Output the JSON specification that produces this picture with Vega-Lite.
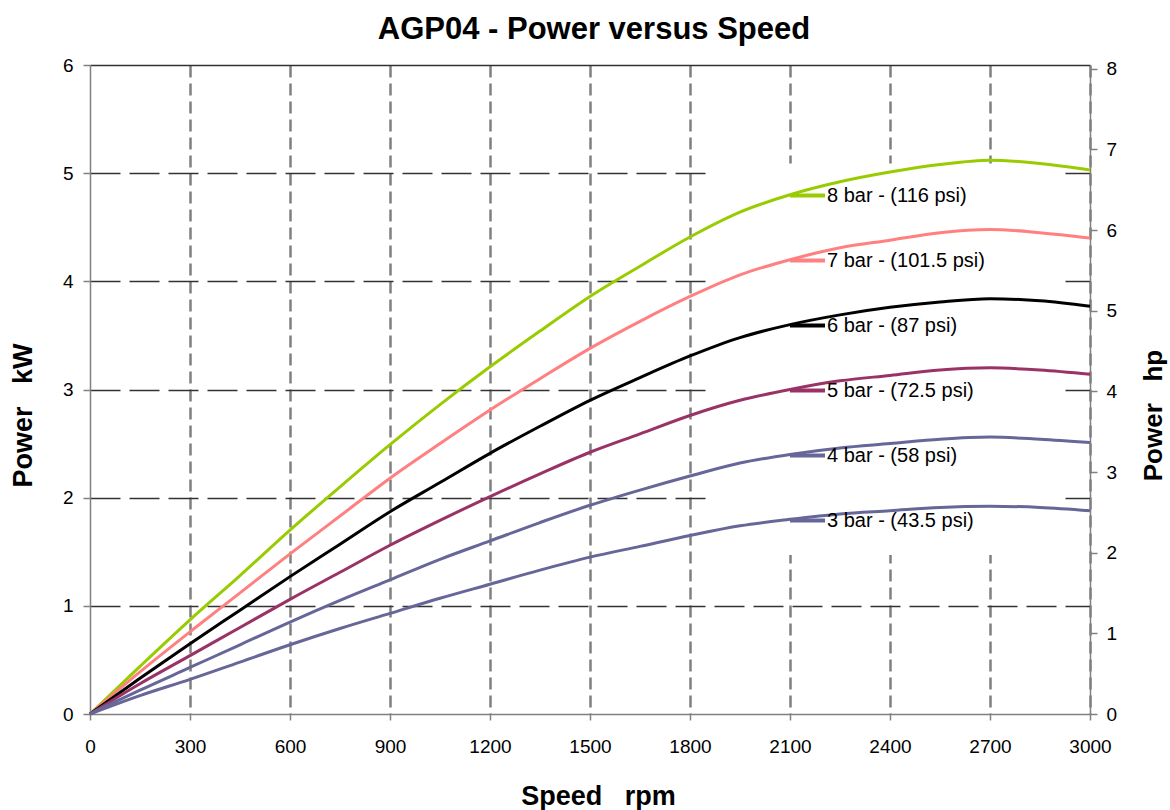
{
  "$schema": "https://vega.github.io/schema/vega-lite/v6.json",
  "width": 1000,
  "height": 649,
  "autosize": {"type": "none"},
  "padding": {"left": 90, "top": 65, "right": 80, "bottom": 96},
  "background": "white",
  "config": {"view": {"stroke": null}, "font": "Liberation Sans"},
  "title": {"text": "AGP04 - Power versus Speed", "fontSize": 31, "fontWeight": "bold", "font": "Liberation Sans", "color": "#000000", "anchor": "middle", "frame": "group", "offset": 10, "dx": 4},
  "layer": [
    {
      "encoding": {
        "x": {"field": "rpm", "type": "quantitative", "scale": {"domain": [0, 3000], "nice": false},
          "axis": {"title": "Speed\u00a0\u00a0\u00a0rpm", "titleFontSize": 27, "titleFontWeight": "bold", "titleColor": "#000000", "titleFont": "Liberation Sans", "titleY": 82, "titleX": 508, "titleBaseline": "middle", "format": "d",
            "values": [0, 300, 600, 900, 1200, 1500, 1800, 2100, 2400, 2700, 3000], "labelFontSize": 19, "labelColor": "#000000", "labelFont": "Liberation Sans", "labelPadding": 17, "labelFlush": false, "labelOverlap": false, "labelBound": false,
            "tickSize": 6, "tickColor": "#808080", "tickWidth": 1.5, "domainColor": "#808080", "domainWidth": 1.5,
            "grid": true, "gridColor": "#808080", "gridWidth": 2.5, "gridDash": [12, 6],
            "gridOpacity": {"condition": {"test": "datum.value === 0", "value": 0}, "value": 1}}},
        "y": {"field": "kW", "type": "quantitative", "scale": {"domain": [0, 6], "nice": false},
          "axis": {"title": "Power\u00a0\u00a0\u00a0kW", "titleFontSize": 27, "titleFontWeight": "bold", "titleColor": "#000000", "titleFont": "Liberation Sans", "titleX": -67, "titleY": 350, "titleAngle": 270, "titleAlign": "center", "titleBaseline": "middle",
            "values": [0, 1, 2, 3, 4, 5, 6], "labelFontSize": 19, "labelColor": "#000000", "labelFont": "Liberation Sans", "labelPadding": 10, "labelFlush": false, "labelOverlap": false, "labelBound": false,
            "tickSize": 7, "tickColor": "#808080", "tickWidth": 1.5, "domainColor": "#808080", "domainWidth": 1.5,
            "grid": true, "gridColor": "#333333", "gridWidth": 1.4,
            "gridDash": {"condition": {"test": "datum.value === 6", "value": [1, 0]}, "value": [30, 9]},
            "gridOpacity": {"condition": {"test": "datum.value === 0", "value": 0}, "value": 1}}}
      },
      "layer": [
        {
          "data": {"values": [{"rpm": 1860, "rpm2": 2910, "kW": 1.47, "kW2": 5.09}]},
          "mark": {"type": "rect", "fill": "white", "strokeWidth": 0},
          "encoding": {"x2": {"field": "rpm2"}, "y2": {"field": "kW2"}}
        },
        {
          "data": {"values": [
            {"series": "8 bar - (116 psi)", "rpm": 0, "kW": 0}, {"series": "8 bar - (116 psi)", "rpm": 150, "kW": 0.44}, {"series": "8 bar - (116 psi)", "rpm": 300, "kW": 0.87}, {"series": "8 bar - (116 psi)", "rpm": 450, "kW": 1.28}, {"series": "8 bar - (116 psi)", "rpm": 600, "kW": 1.70}, {"series": "8 bar - (116 psi)", "rpm": 750, "kW": 2.10}, {"series": "8 bar - (116 psi)", "rpm": 900, "kW": 2.49}, {"series": "8 bar - (116 psi)", "rpm": 1050, "kW": 2.86}, {"series": "8 bar - (116 psi)", "rpm": 1200, "kW": 3.21}, {"series": "8 bar - (116 psi)", "rpm": 1350, "kW": 3.54}, {"series": "8 bar - (116 psi)", "rpm": 1500, "kW": 3.86}, {"series": "8 bar - (116 psi)", "rpm": 1650, "kW": 4.14}, {"series": "8 bar - (116 psi)", "rpm": 1800, "kW": 4.41}, {"series": "8 bar - (116 psi)", "rpm": 1950, "kW": 4.64}, {"series": "8 bar - (116 psi)", "rpm": 2100, "kW": 4.80}, {"series": "8 bar - (116 psi)", "rpm": 2250, "kW": 4.92}, {"series": "8 bar - (116 psi)", "rpm": 2400, "kW": 5.01}, {"series": "8 bar - (116 psi)", "rpm": 2550, "kW": 5.08}, {"series": "8 bar - (116 psi)", "rpm": 2700, "kW": 5.12}, {"series": "8 bar - (116 psi)", "rpm": 2850, "kW": 5.09}, {"series": "8 bar - (116 psi)", "rpm": 3000, "kW": 5.03},
            {"series": "7 bar - (101.5 psi)", "rpm": 0, "kW": 0}, {"series": "7 bar - (101.5 psi)", "rpm": 150, "kW": 0.39}, {"series": "7 bar - (101.5 psi)", "rpm": 300, "kW": 0.76}, {"series": "7 bar - (101.5 psi)", "rpm": 450, "kW": 1.12}, {"series": "7 bar - (101.5 psi)", "rpm": 600, "kW": 1.48}, {"series": "7 bar - (101.5 psi)", "rpm": 750, "kW": 1.83}, {"series": "7 bar - (101.5 psi)", "rpm": 900, "kW": 2.18}, {"series": "7 bar - (101.5 psi)", "rpm": 1050, "kW": 2.50}, {"series": "7 bar - (101.5 psi)", "rpm": 1200, "kW": 2.81}, {"series": "7 bar - (101.5 psi)", "rpm": 1350, "kW": 3.10}, {"series": "7 bar - (101.5 psi)", "rpm": 1500, "kW": 3.38}, {"series": "7 bar - (101.5 psi)", "rpm": 1650, "kW": 3.63}, {"series": "7 bar - (101.5 psi)", "rpm": 1800, "kW": 3.86}, {"series": "7 bar - (101.5 psi)", "rpm": 1950, "kW": 4.06}, {"series": "7 bar - (101.5 psi)", "rpm": 2100, "kW": 4.20}, {"series": "7 bar - (101.5 psi)", "rpm": 2250, "kW": 4.31}, {"series": "7 bar - (101.5 psi)", "rpm": 2400, "kW": 4.38}, {"series": "7 bar - (101.5 psi)", "rpm": 2550, "kW": 4.45}, {"series": "7 bar - (101.5 psi)", "rpm": 2700, "kW": 4.48}, {"series": "7 bar - (101.5 psi)", "rpm": 2850, "kW": 4.45}, {"series": "7 bar - (101.5 psi)", "rpm": 3000, "kW": 4.40},
            {"series": "6 bar - (87 psi)", "rpm": 0, "kW": 0}, {"series": "6 bar - (87 psi)", "rpm": 150, "kW": 0.33}, {"series": "6 bar - (87 psi)", "rpm": 300, "kW": 0.65}, {"series": "6 bar - (87 psi)", "rpm": 450, "kW": 0.96}, {"series": "6 bar - (87 psi)", "rpm": 600, "kW": 1.27}, {"series": "6 bar - (87 psi)", "rpm": 750, "kW": 1.57}, {"series": "6 bar - (87 psi)", "rpm": 900, "kW": 1.87}, {"series": "6 bar - (87 psi)", "rpm": 1050, "kW": 2.14}, {"series": "6 bar - (87 psi)", "rpm": 1200, "kW": 2.41}, {"series": "6 bar - (87 psi)", "rpm": 1350, "kW": 2.66}, {"series": "6 bar - (87 psi)", "rpm": 1500, "kW": 2.90}, {"series": "6 bar - (87 psi)", "rpm": 1650, "kW": 3.11}, {"series": "6 bar - (87 psi)", "rpm": 1800, "kW": 3.31}, {"series": "6 bar - (87 psi)", "rpm": 1950, "kW": 3.48}, {"series": "6 bar - (87 psi)", "rpm": 2100, "kW": 3.60}, {"series": "6 bar - (87 psi)", "rpm": 2250, "kW": 3.69}, {"series": "6 bar - (87 psi)", "rpm": 2400, "kW": 3.76}, {"series": "6 bar - (87 psi)", "rpm": 2550, "kW": 3.81}, {"series": "6 bar - (87 psi)", "rpm": 2700, "kW": 3.84}, {"series": "6 bar - (87 psi)", "rpm": 2850, "kW": 3.82}, {"series": "6 bar - (87 psi)", "rpm": 3000, "kW": 3.77},
            {"series": "5 bar - (72.5 psi)", "rpm": 0, "kW": 0}, {"series": "5 bar - (72.5 psi)", "rpm": 150, "kW": 0.28}, {"series": "5 bar - (72.5 psi)", "rpm": 300, "kW": 0.54}, {"series": "5 bar - (72.5 psi)", "rpm": 450, "kW": 0.80}, {"series": "5 bar - (72.5 psi)", "rpm": 600, "kW": 1.06}, {"series": "5 bar - (72.5 psi)", "rpm": 750, "kW": 1.31}, {"series": "5 bar - (72.5 psi)", "rpm": 900, "kW": 1.56}, {"series": "5 bar - (72.5 psi)", "rpm": 1050, "kW": 1.79}, {"series": "5 bar - (72.5 psi)", "rpm": 1200, "kW": 2.01}, {"series": "5 bar - (72.5 psi)", "rpm": 1350, "kW": 2.22}, {"series": "5 bar - (72.5 psi)", "rpm": 1500, "kW": 2.42}, {"series": "5 bar - (72.5 psi)", "rpm": 1650, "kW": 2.59}, {"series": "5 bar - (72.5 psi)", "rpm": 1800, "kW": 2.76}, {"series": "5 bar - (72.5 psi)", "rpm": 1950, "kW": 2.90}, {"series": "5 bar - (72.5 psi)", "rpm": 2100, "kW": 3.00}, {"series": "5 bar - (72.5 psi)", "rpm": 2250, "kW": 3.08}, {"series": "5 bar - (72.5 psi)", "rpm": 2400, "kW": 3.13}, {"series": "5 bar - (72.5 psi)", "rpm": 2550, "kW": 3.18}, {"series": "5 bar - (72.5 psi)", "rpm": 2700, "kW": 3.20}, {"series": "5 bar - (72.5 psi)", "rpm": 2850, "kW": 3.18}, {"series": "5 bar - (72.5 psi)", "rpm": 3000, "kW": 3.14},
            {"series": "4 bar - (58 psi)", "rpm": 0, "kW": 0}, {"series": "4 bar - (58 psi)", "rpm": 150, "kW": 0.22}, {"series": "4 bar - (58 psi)", "rpm": 300, "kW": 0.43}, {"series": "4 bar - (58 psi)", "rpm": 450, "kW": 0.64}, {"series": "4 bar - (58 psi)", "rpm": 600, "kW": 0.85}, {"series": "4 bar - (58 psi)", "rpm": 750, "kW": 1.05}, {"series": "4 bar - (58 psi)", "rpm": 900, "kW": 1.24}, {"series": "4 bar - (58 psi)", "rpm": 1050, "kW": 1.43}, {"series": "4 bar - (58 psi)", "rpm": 1200, "kW": 1.60}, {"series": "4 bar - (58 psi)", "rpm": 1350, "kW": 1.77}, {"series": "4 bar - (58 psi)", "rpm": 1500, "kW": 1.93}, {"series": "4 bar - (58 psi)", "rpm": 1650, "kW": 2.07}, {"series": "4 bar - (58 psi)", "rpm": 1800, "kW": 2.20}, {"series": "4 bar - (58 psi)", "rpm": 1950, "kW": 2.32}, {"series": "4 bar - (58 psi)", "rpm": 2100, "kW": 2.40}, {"series": "4 bar - (58 psi)", "rpm": 2250, "kW": 2.46}, {"series": "4 bar - (58 psi)", "rpm": 2400, "kW": 2.50}, {"series": "4 bar - (58 psi)", "rpm": 2550, "kW": 2.54}, {"series": "4 bar - (58 psi)", "rpm": 2700, "kW": 2.56}, {"series": "4 bar - (58 psi)", "rpm": 2850, "kW": 2.54}, {"series": "4 bar - (58 psi)", "rpm": 3000, "kW": 2.51},
            {"series": "3 bar - (43.5 psi)", "rpm": 0, "kW": 0}, {"series": "3 bar - (43.5 psi)", "rpm": 150, "kW": 0.17}, {"series": "3 bar - (43.5 psi)", "rpm": 300, "kW": 0.32}, {"series": "3 bar - (43.5 psi)", "rpm": 450, "kW": 0.48}, {"series": "3 bar - (43.5 psi)", "rpm": 600, "kW": 0.64}, {"series": "3 bar - (43.5 psi)", "rpm": 750, "kW": 0.79}, {"series": "3 bar - (43.5 psi)", "rpm": 900, "kW": 0.93}, {"series": "3 bar - (43.5 psi)", "rpm": 1050, "kW": 1.07}, {"series": "3 bar - (43.5 psi)", "rpm": 1200, "kW": 1.20}, {"series": "3 bar - (43.5 psi)", "rpm": 1350, "kW": 1.33}, {"series": "3 bar - (43.5 psi)", "rpm": 1500, "kW": 1.45}, {"series": "3 bar - (43.5 psi)", "rpm": 1650, "kW": 1.55}, {"series": "3 bar - (43.5 psi)", "rpm": 1800, "kW": 1.65}, {"series": "3 bar - (43.5 psi)", "rpm": 1950, "kW": 1.74}, {"series": "3 bar - (43.5 psi)", "rpm": 2100, "kW": 1.80}, {"series": "3 bar - (43.5 psi)", "rpm": 2250, "kW": 1.85}, {"series": "3 bar - (43.5 psi)", "rpm": 2400, "kW": 1.88}, {"series": "3 bar - (43.5 psi)", "rpm": 2550, "kW": 1.91}, {"series": "3 bar - (43.5 psi)", "rpm": 2700, "kW": 1.92}, {"series": "3 bar - (43.5 psi)", "rpm": 2850, "kW": 1.91}, {"series": "3 bar - (43.5 psi)", "rpm": 3000, "kW": 1.88}
          ]},
          "mark": {"type": "line", "strokeWidth": 3, "interpolate": "monotone"},
          "encoding": {
            "color": {"field": "series", "type": "nominal",
              "scale": {"domain": ["8 bar - (116 psi)", "7 bar - (101.5 psi)", "6 bar - (87 psi)", "5 bar - (72.5 psi)", "4 bar - (58 psi)", "3 bar - (43.5 psi)"],
                "range": ["#99CC00", "#FF8080", "#000000", "#993366", "#666699", "#666699"]},
              "legend": {"orient": "none", "legendX": 698, "legendY": 111, "title": null, "symbolType": "stroke", "symbolSize": 1225, "symbolStrokeWidth": 4,
                "labelFontSize": 20, "labelFont": "Liberation Sans", "labelColor": "#000000", "labelOffset": 0, "rowPadding": 35, "padding": 0, "symbolOffset": 0, "labelLimit": 400}}
          }
        }
      ]
    },
    {
      "data": {"values": [{"hp": 0}, {"hp": 8}]},
      "mark": {"type": "point", "opacity": 0},
      "encoding": {
        "y": {"field": "hp", "type": "quantitative", "scale": {"domain": [0, 8.046], "nice": false},
          "axis": {"orient": "right", "title": "Power\u00a0\u00a0\u00a0hp", "titleFontSize": 26, "titleFontWeight": "bold", "titleColor": "#000000", "titleFont": "Liberation Sans", "titleX": 63, "titleY": 350, "titleAngle": 270, "titleAlign": "center", "titleBaseline": "middle",
            "values": [0, 1, 2, 3, 4, 5, 6, 7, 8], "labelFontSize": 19, "labelColor": "#000000", "labelFont": "Liberation Sans", "labelPadding": 9, "labelFlush": false, "labelOverlap": false, "labelBound": false,
            "tickSize": 7, "tickColor": "#808080", "tickWidth": 1.5, "domainColor": "#808080", "domainWidth": 1.5, "grid": false}}
      }
    }
  ],
  "resolve": {"scale": {"y": "independent"}}
}
